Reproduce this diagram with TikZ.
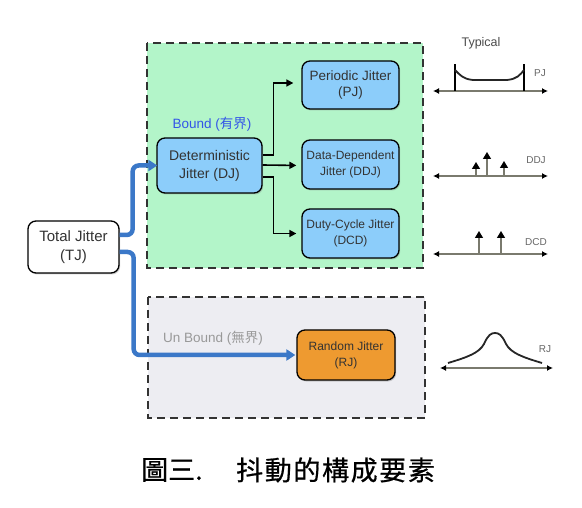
\documentclass[tikz,border=0pt]{standalone}
\usepackage{fontspec}
\setmainfont{Liberation Sans}
\newfontfamily\cjk{Noto Sans CJK TC}
\newfontfamily\cjkcap[FakeBold=0.6]{Noto Sans CJK TC}
\usetikzlibrary{arrows.meta,shadows}
\definecolor{greenbg}{HTML}{B3F5C9}
\definecolor{graybg}{HTML}{EDEDF2}
\definecolor{boxblue}{HTML}{8CCDFA}
\definecolor{boxorange}{HTML}{EE9A30}
\definecolor{arrowblue}{HTML}{3B78C8}
\definecolor{boundblue}{HTML}{3355E8}
\definecolor{txt}{HTML}{333333}
\definecolor{axisgray}{HTML}{7A7A6E}
\tikzset{
  container/.style={draw=black!80, line width=1.6pt, dash pattern=on 8pt off 5pt},
  jbox/.style={draw=black, line width=1.3pt, rounded corners=8pt, align=center, text=txt,
     inner sep=0pt, drop shadow={opacity=0.35, shadow xshift=1.2pt, shadow yshift=-1.5pt}},
  bluearrow/.style={draw=arrowblue, line width=4.5pt, rounded corners=6pt,
     -{Triangle[length=9pt,width=11pt]}},
  blackarrow/.style={draw=black, line width=1.6pt, -{Triangle[length=7pt,width=7pt]}},
  axis/.style={draw=axisgray, line width=1.3pt,
     {Latex[black,length=6pt,width=6pt]}-{Latex[black,length=6pt,width=6pt]}},
  spike/.style={draw=axisgray, line width=1.3pt, -{Triangle[black,length=7pt,width=8pt]}},
  wave/.style={draw=black!85, line width=1.8pt},
  small/.style={text=black!60, font=\fontsize{10}{12}\selectfont, inner sep=0pt}
}
\begin{document}
\begin{tikzpicture}[x=1pt,y=-1pt]
\useasboundingbox (0,0) rectangle (582,508);
\fill[white] (0,0) rectangle (582,508);

% containers
\draw[container, fill=greenbg] (147,43) rectangle (423,268);
\draw[container, fill=graybg] (148,297) rectangle (425,418);

% boxes
\node[jbox, fill=white, minimum width=91pt, minimum height=52pt,
  font=\fontsize{15}{19}\selectfont] (TJ) at (73.5,247) {Total Jitter\\(TJ)};
\node[jbox, fill=boxblue, minimum width=105pt, minimum height=55pt,
  font=\fontsize{14}{18}\selectfont] (DJ) at (209.5,165.5) {Deterministic\\Jitter (DJ)};
\node[jbox, fill=boxblue, minimum width=97pt, minimum height=48pt,
  font=\fontsize{13.5}{16}\selectfont] (PJ) at (350.5,85) {Periodic Jitter\\(PJ)};
\node[jbox, fill=boxblue, minimum width=97pt, minimum height=49pt,
  font=\fontsize{12}{16}\selectfont] (DDJ) at (350.5,164.5) {Data-Dependent\\Jitter (DDJ)};
\node[jbox, fill=boxblue, minimum width=97pt, minimum height=49pt,
  font=\fontsize{12}{16}\selectfont] (DCD) at (350.5,233.5) {Duty-Cycle Jitter\\(DCD)};
\node[jbox, fill=boxorange, minimum width=98pt, minimum height=50pt,
  font=\fontsize{12}{16}\selectfont] (RJ) at (346,355) {Random Jitter\\(RJ)};

% labels
\node[text=boundblue, font=\fontsize{13.5}{16}\selectfont, inner sep=0pt] (bound) at (212,124)
  {Bound ({\cjk 有界})};
\node[text=black!40, font=\fontsize{13.5}{16}\selectfont, inner sep=0pt, anchor=west] (unbound) at (163,338)
  {Un Bound ({\cjk 無界})};

% blue arrows
\draw[bluearrow] ([yshift=12pt]TJ.east) -- ++(13,0) |- ([xshift=1pt]DJ.west);
\draw[bluearrow] ([yshift=-5pt]TJ.east) -- ++(14,0) |- ([xshift=-1pt]RJ.west);

% black arrows
\draw[blackarrow, shorten >=8pt] ([yshift=10.5pt]DJ.east) -- ++(11,0) |- ([yshift=2pt]PJ.west);
\draw[blackarrow, shorten >=5pt] ([yshift=0.5pt]DJ.east) -- (DDJ.west |- DJ.east);
\draw[blackarrow, shorten >=5pt] ([yshift=-11.5pt]DJ.east) -- ++(11,0) |- (DCD.west);

% Typical waveforms
\node[text=black!70, font=\fontsize{12.5}{14}\selectfont, inner sep=0pt] (typ) at (481,43) {Typical};

% PJ
\coordinate (pja) at (433,91); \coordinate (pjb) at (548,91);
\draw[axis] (pja) -- (pjb);
\draw[black, line width=2pt] (455,91) -- (455,64);
\draw[black, line width=2pt] (524,91) -- (524,64);
\draw[wave] (455,70) .. controls (460,75) and (463,79) .. (473,80) -- (507,80)
  .. controls (517,79) and (520,75) .. (524,70);
\node[small] (pjl) at (540,73) {PJ};

% DDJ
\coordinate (dda) at (433,176); \coordinate (ddb) at (548,176);
\draw[axis] (dda) -- (ddb);
\draw[spike] (476,176) -- (476,162);
\draw[spike] (487,176) -- (487,152);
\draw[spike] (504,176) -- (504,161);
\node[small] (ddjl) at (536,160) {DDJ};

% DCD
\coordinate (dca) at (433,254); \coordinate (dcb) at (548,254);
\draw[axis] (dca) -- (dcb);
\draw[spike] (479,254) -- (479,231);
\draw[spike] (501,254) -- (501,231);
\node[small] (dcdl) at (536,242) {DCD};

% RJ
\coordinate (rja) at (440,368); \coordinate (rjb) at (553,368);
\draw[axis] (rja) -- (rjb);
\draw[wave] (448,363) .. controls (468,357) and (479,353) .. (484,344)
  .. controls (488,335) and (491,333) .. (495,333)
  .. controls (499,333) and (502,335) .. (506,344)
  .. controls (511,353) and (522,357) .. (542,363);
\node[small] (rjl) at (545,349) {RJ};

% caption
\node[anchor=west, inner sep=0pt, font=\cjkcap\fontsize{27}{30}\selectfont] (cap1) at (141,470) {圖三.};
\node[anchor=west, inner sep=0pt, font=\cjkcap\fontsize{27}{30}\selectfont\addfontfeatures{LetterSpace=6}] (cap2) at (236,470) {抖動的構成要素};
\end{tikzpicture}
\end{document}
